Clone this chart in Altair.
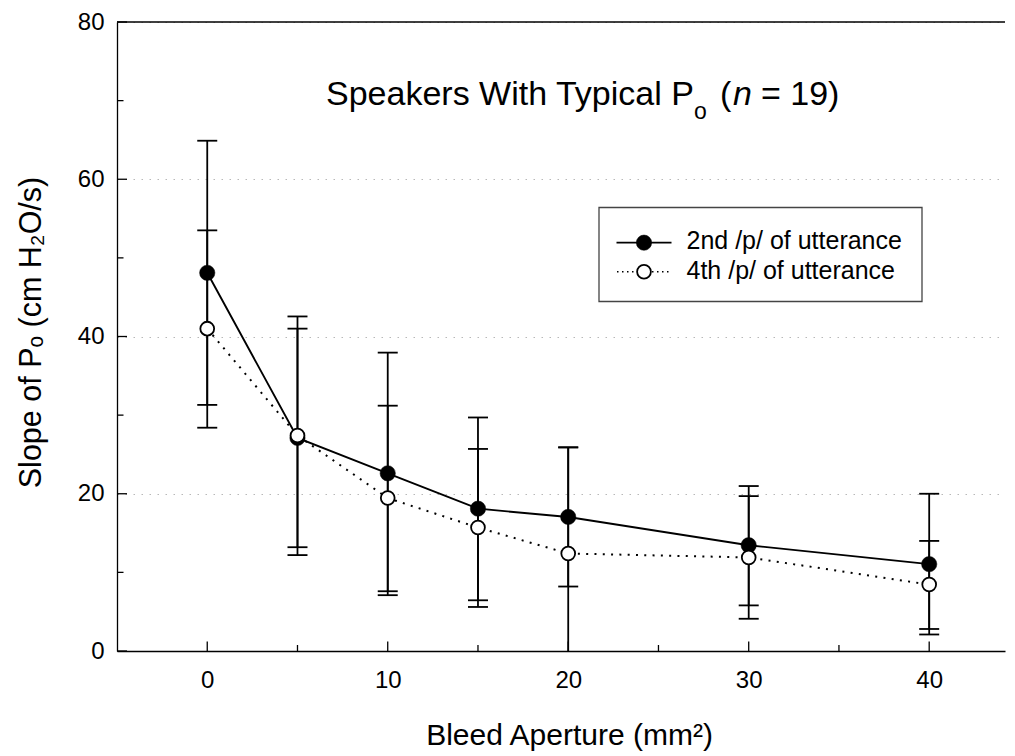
import altair as alt
import pandas as pd

FONT = "Liberation Sans"

# ---- data ----
aperture = [0, 5, 10, 15, 20, 30, 40]
second_mean = [48.1, 27.1, 22.6, 18.1, 17.05, 13.45, 11.05]
second_lo = [31.3, 13.2, 7.1, 6.45, 8.2, 5.8, 2.1]
second_hi = [64.9, 41.0, 37.95, 29.7, 25.9, 20.98, 20.0]
fourth_mean = [41.0, 27.4, 19.45, 15.7, 12.4, 11.9, 8.45]
fourth_lo = [28.4, 12.2, 7.6, 5.6, -1.1, 4.1, 2.8]
fourth_hi = [53.5, 42.55, 31.2, 25.7, 25.9, 19.7, 14.0]

series_names = ["2nd /p/ of utterance", "4th /p/ of utterance"]
x_major = [0, 10, 20, 30, 40]
x_minor = [5, 15, 25, 35]
y_major = [0, 20, 40, 60, 80]
y_minor = [10, 30, 50, 70]

TOP = 14
W, H = 888, 651 - 8 - TOP  # plot bottom at page y = 651
OY = 18 - 8 - TOP  # shift of annotations relative to reference plot top

df2 = pd.DataFrame({"x": aperture, "m": second_mean, "lo": second_lo, "hi": second_hi})
df4 = pd.DataFrame({"x": aperture, "m": fourth_mean, "lo": fourth_lo, "hi": fourth_hi})
caps = pd.concat([
    pd.DataFrame({"x": aperture, "v": second_lo}),
    pd.DataFrame({"x": aperture, "v": second_hi}),
    pd.DataFrame({"x": aperture, "v": fourth_lo}),
    pd.DataFrame({"x": aperture, "v": fourth_hi}),
])

xs = alt.Scale(domain=[-5, 44.2], nice=False, zero=False)
ys = alt.Scale(domain=[0, 80], nice=False, zero=False)

x_axis = alt.Axis(
    values=x_major, ticks=False, grid=False, domain=True, domainColor="black",
    domainWidth=1.3, labelFont=FONT, labelFontSize=24, labelColor="black",
    labelPadding=17, labelFlush=False,
    title="Bleed Aperture (mm²)", titleFont=FONT, titleFontSize=30,
    titleFontWeight="normal", titleColor="black", titleX=452, titleY=93,
    titleBaseline="alphabetic", titleAlign="center",
)
y_axis = alt.Axis(
    values=y_major, ticks=False, grid=True, gridDash=[1.5, 6.5], gridColor="#b8b8b8",
    gridWidth=1, domain=True, domainColor="black", domainWidth=1.3,
    labelFont=FONT, labelFontSize=24, labelColor="black", labelPadding=13,
    labelFlush=False,
    title="Slope of Pₒ (cm H₂O/s)", titleFont=FONT, titleFontSize=30.5,
    titleFontWeight="normal", titleColor="black", titleAngle=270, titleX=-77,
    titleY=332 - 8 - TOP, titleBaseline="alphabetic", titleAlign="center",
)

def X(f):
    return alt.X(f, type="quantitative", scale=xs, axis=x_axis)

def Y(f):
    return alt.Y(f, type="quantitative", scale=ys, axis=y_axis)

def one():
    return pd.DataFrame({"k": [0]})

# inward ticks
xt_major = alt.Chart(pd.DataFrame({"x": x_major})).mark_rule(color="black", strokeWidth=1.3).encode(
    x=X("x"), y=alt.value(H), y2=alt.value(H - 9.5))
xt_minor = alt.Chart(pd.DataFrame({"x": x_minor})).mark_rule(color="black", strokeWidth=1.3).encode(
    x=X("x"), y=alt.value(H), y2=alt.value(H - 6))
yt_major = alt.Chart(pd.DataFrame({"y": y_major})).mark_rule(color="black", strokeWidth=1.3).encode(
    y=Y("y"), x=alt.value(0), x2=alt.value(10))
yt_minor = alt.Chart(pd.DataFrame({"y": y_minor})).mark_rule(color="black", strokeWidth=1.3).encode(
    y=Y("y"), x=alt.value(0), x2=alt.value(6.5))
top_line = alt.Chart(pd.DataFrame({"y": [80]})).mark_rule(color="black", strokeWidth=1.3).encode(
    y=Y("y"), x=alt.value(0), x2=alt.value(W))

# error bars
eb2 = alt.Chart(df2).mark_rule(color="black", strokeWidth=1.8, clip=True).encode(
    x=X("x"), y=Y("lo"), y2="hi")
eb4 = alt.Chart(df4).mark_rule(color="black", strokeWidth=1.8, clip=True).encode(
    x=X("x"), y=Y("lo"), y2="hi")
cap = alt.Chart(caps).mark_tick(color="black", orient="horizontal", size=20, thickness=1.8,
                                clip=True, opacity=1).encode(x=X("x"), y=Y("v"))

line2 = alt.Chart(df2).mark_line(color="black", strokeWidth=1.9).encode(x=X("x"), y=Y("m"))
line4 = alt.Chart(df4).mark_line(color="black", strokeWidth=2, strokeDash=[2, 6.3]).encode(
    x=X("x"), y=Y("m"))
pt2 = alt.Chart(df2).mark_point(shape="circle", filled=True, fill="black", stroke="black",
                                strokeWidth=0.5, size=235, opacity=1).encode(x=X("x"), y=Y("m"))
pt4 = alt.Chart(df4).mark_point(shape="circle", filled=True, fill="white", stroke="black",
                                strokeWidth=1.8, size=190, opacity=1, fillOpacity=1).encode(
    x=X("x"), y=Y("m"))

# legend (drawn as annotation)
leg_box = alt.Chart(one()).mark_rect(fill="white", stroke="#444", strokeWidth=1.3).encode(
    x=alt.value(482), x2=alt.value(805), y=alt.value(189.5 + OY), y2=alt.value(283.5 + OY))
leg_l1 = alt.Chart(one()).mark_rule(color="black", strokeWidth=1.8).encode(
    x=alt.value(499.5), x2=alt.value(554.5), y=alt.value(224.7 + OY))
leg_l2 = alt.Chart(one()).mark_rule(color="black", strokeWidth=1.5, strokeDash=[1.5, 3.5]).encode(
    x=alt.value(500), x2=alt.value(554.5), y=alt.value(253.7 + OY))
leg_p1 = alt.Chart(one()).mark_point(shape="circle", filled=True, fill="black", stroke="black",
                                     strokeWidth=0.5, size=235, opacity=1).encode(
    x=alt.value(527), y=alt.value(224.7 + OY))
leg_p2 = alt.Chart(one()).mark_point(shape="circle", filled=True, fill="white", stroke="black",
                                     strokeWidth=1.8, size=190, opacity=1).encode(
    x=alt.value(527), y=alt.value(253.7 + OY))
leg_t = alt.Chart(pd.DataFrame({"t": series_names, "yy": [231 + OY, 260.5 + OY]})).mark_text(
    font=FONT, fontSize=25, align="left", baseline="alphabetic", color="black").encode(
    text="t:N", x=alt.value(569.5), y=alt.Y("yy:Q", scale=None))

# title with subscript and italic n
TB = 87 + OY
title_main = alt.Chart(one()).mark_text(
    text="Speakers With Typical P", font=FONT, fontSize=34, align="left", baseline="alphabetic",
    color="black").encode(x=alt.value(209), y=alt.value(TB))
title_sub = alt.Chart(one()).mark_text(
    text="o", font=FONT, fontSize=23, align="left", baseline="alphabetic",
    color="black").encode(x=alt.value(577), y=alt.value(TB + 14))
title_par = alt.Chart(one()).mark_text(
    text="(", font=FONT, fontSize=34, align="left", baseline="alphabetic",
    color="black").encode(x=alt.value(603), y=alt.value(TB))
title_n = alt.Chart(one()).mark_text(
    text="n", font=FONT, fontSize=34, fontStyle="italic", align="left", baseline="alphabetic",
    color="black").encode(x=alt.value(616), y=alt.value(TB))
title_rest = alt.Chart(one()).mark_text(
    text="= 19)", font=FONT, fontSize=34, align="left", baseline="alphabetic",
    color="black").encode(x=alt.value(644), y=alt.value(TB))

chart = alt.layer(
    eb2, eb4, cap, line2, line4, pt2, pt4,
    xt_major, xt_minor, yt_major, yt_minor, top_line,
    leg_box, leg_l1, leg_l2, leg_p1, leg_p2, leg_t,
    title_main, title_sub, title_par, title_n, title_rest,
).properties(
    width=W, height=H,
    autosize=alt.AutoSizeParams(type="none"),
    padding={"left": 109, "top": TOP, "right": 2, "bottom": 104},
    background="white",
).configure_view(stroke=None)

chart.save("out.html", embed_options={"renderer": "svg", "actions": False})
